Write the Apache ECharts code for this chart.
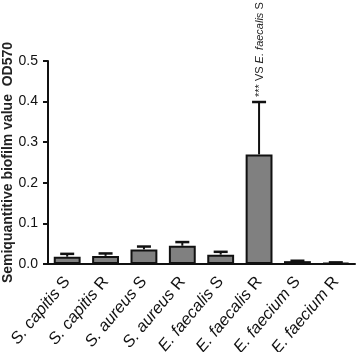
<!DOCTYPE html>
<html>
<head>
<meta charset="utf-8">
<script src="https://cdn.jsdelivr.net/npm/echarts@6/dist/echarts.min.js"></script>
<style>
  html, body { margin: 0; padding: 0; background: #fff; }
  #chart { width: 358px; height: 352px; }
</style>
</head>
<body>
<div id="chart"></div>
<script>
// species name (italic) + suffix (upright)
var species = ['S. capitis', 'S. capitis', 'S. aureus', 'S. aureus', 'E. faecalis', 'E. faecalis', 'E. faecium', 'E. faecium'];
var suffix = ['S', 'R', 'S', 'R', 'S', 'R', 'S', 'R'];
var categories = species.map(function (s, i) { return s + ' ' + suffix[i]; });
var means = [0.018, 0.020, 0.036, 0.045, 0.023, 0.270, 0.007, 0.003];
var errUp = [0.025, 0.026, 0.043, 0.054, 0.030, 0.399, 0.008, 0.004];
var yTicks = [0.0, 0.1, 0.2, 0.3, 0.4, 0.5];
var noteIndex = 5; // significance note above E. faecalis R

var chart = echarts.init(document.getElementById('chart'));
var font = 'Liberation Sans, Arial, sans-serif';

var option = {
  animation: false,
  backgroundColor: '#fff',
  grid: { left: 48, right: 3, top: 61, bottom: 88, outerBoundsMode: 'none', containLabel: false },
  xAxis: {
    type: 'category',
    data: categories,
    axisLine: { lineStyle: { color: '#111', width: 2 } },
    axisTick: { alignWithLabel: true, length: 6, lineStyle: { color: '#111', width: 2 } },
    axisLabel: {
      rotate: 50,
      interval: 0,
      margin: 15,
      color: '#111',
      fontFamily: font,
      fontSize: 16.5,
      formatter: function (v, i) {
        return '{i|' + species[i] + '} ' + suffix[i];
      },
      rich: {
        i: { fontStyle: 'italic', fontFamily: font, fontSize: 16.5, color: '#111' }
      }
    }
  },
  yAxis: {
    type: 'value',
    min: 0,
    max: 0.5,
    interval: 0.1,
    name: 'Semiquantitive biofilm value  OD570',
    nameLocation: 'middle',
    nameGap: 33,
    nameMoveOverlap: false,
    nameTextStyle: { fontFamily: font, fontSize: 14, fontWeight: 'bold', color: '#222' },
    axisLine: { show: true, lineStyle: { color: '#111', width: 2 } },
    axisTick: { show: true, length: 5, lineStyle: { color: '#111', width: 2 } },
    splitLine: { show: false },
    axisLabel: {
      color: '#111',
      fontFamily: font,
      fontSize: 14,
      margin: 10,
      formatter: function (v) { return v.toFixed(1); }
    }
  },
  series: [
    {
      type: 'bar',
      data: means,
      barWidth: '70%',
      itemStyle: { color: '#808080', borderColor: '#111', borderWidth: 2 },
      z: 2
    },
    {
      type: 'custom',
      data: means.map(function (m, i) { return [i, m, errUp[i]]; }),
      z: 3,
      renderItem: function (params, api) {
        var i = api.value(0);
        var base = api.coord([i, api.value(1)]);
        var top = api.coord([i, api.value(2)]);
        var half = 7;
        var children = [
          { type: 'line', shape: { x1: base[0], y1: base[1], x2: top[0], y2: top[1] }, style: { stroke: '#111', lineWidth: 2 } },
          { type: 'line', shape: { x1: top[0] - half, y1: top[1], x2: top[0] + half, y2: top[1] }, style: { stroke: '#111', lineWidth: 2.5 } }
        ];
        if (i === noteIndex) {
          children.push({
            type: 'text',
            x: top[0] + 1,
            y: top[1] - 5,
            rotation: Math.PI / 2,
            style: {
              text: '*** VS {i|E. faecalis} S',
              rich: { i: { fontStyle: 'italic', fontFamily: font, fontSize: 11, fill: '#222' } },
              fontFamily: font,
              fontSize: 11,
              fill: '#222',
              align: 'left',
              verticalAlign: 'middle'
            }
          });
        }
        return { type: 'group', children: children };
      }
    }
  ]
};
chart.setOption(option);
</script>
</body>
</html>
